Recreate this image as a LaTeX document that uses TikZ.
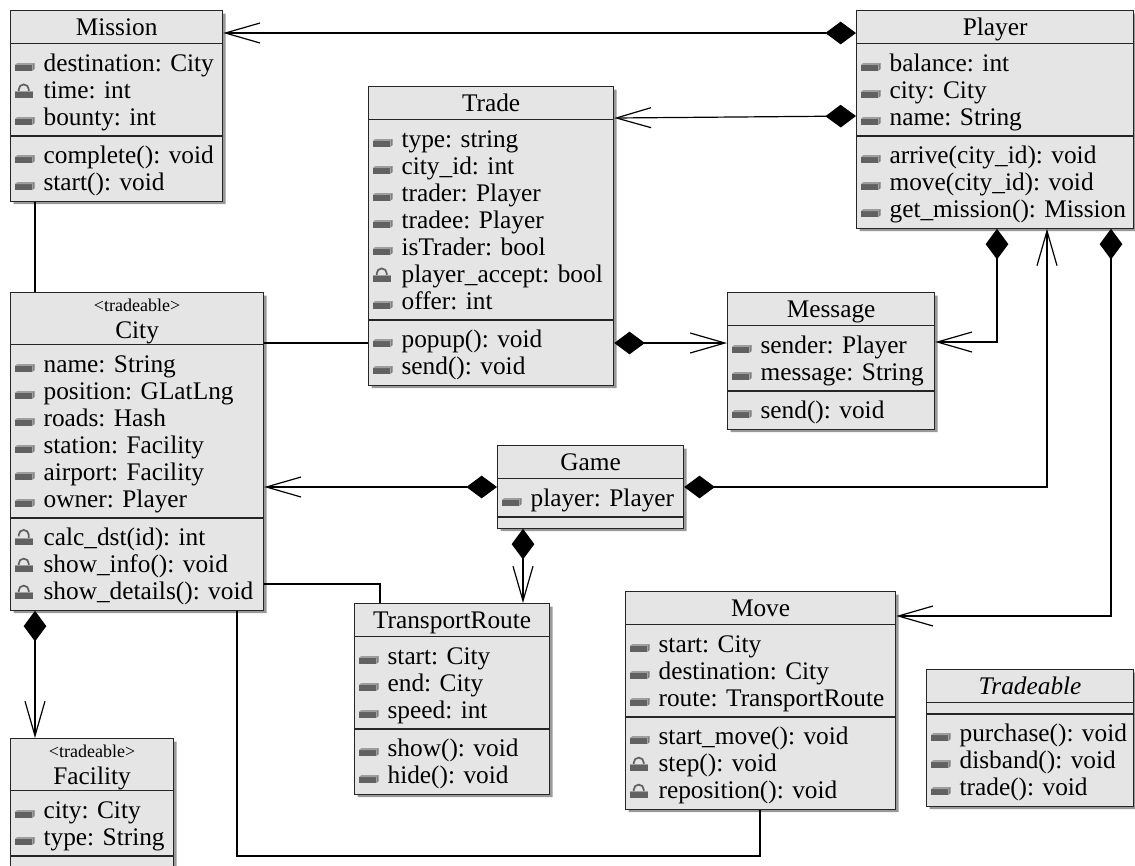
\documentclass[tikz,border=0pt]{standalone}
\usepackage{fontspec}
\setmainfont{Liberation Serif}
\usetikzlibrary{shapes.multipart,shadows,arrows.meta}
\setlength{\parindent}{0pt}
\frenchspacing

\tikzset{every picture/.style={line width=0.75pt}}
\tikzset{
  umlclass/.style={rectangle split, rectangle split parts=3, draw=black!85, fill=black!10,
    line width=0.9pt, inner xsep=2.25pt, inner ysep=3.75pt, anchor=north west,
    rectangle split empty part height=0.75pt,
    font=\fontsize{19pt}{20.25pt}\selectfont\frenchspacing,
    drop shadow={shadow xshift=2.25pt, shadow yshift=-2.25pt, fill=black!40, opacity=1}},
  assoc/.style={draw=black, line width=0.9pt},
  comp/.style={assoc, {Diamond[length=23pt,width=17pt]}-{Straight Barb[length=26pt,width=15pt]}},
  icon/.style={baseline=0pt, scale=1.05},
}

% member icons
\newcommand{\pubicon}{\tikz[icon]{\fill[black!62] (0pt,0.3pt) rectangle (12.5pt,4.6pt); \fill[black!38] (0pt,4.6pt) -- (1.6pt,6pt) -- (14pt,6pt) -- (12.5pt,4.6pt) -- cycle; \fill[black!50] (12.5pt,0.3pt) -- (14pt,1.7pt) -- (14pt,6pt) -- (12.5pt,4.6pt) -- cycle;}}
\newcommand{\lockicon}{\tikz[icon]{\draw[black!62,line width=1.3pt] (3pt,4.5pt) -- (3pt,6.4pt) arc[start angle=180,end angle=0,radius=3.6pt] -- (10.2pt,4.5pt); \fill[black!62] (0.3pt,0.3pt) rectangle (12.9pt,4.6pt); \fill[black!38] (0.3pt,4.6pt) rectangle (12.9pt,5.6pt);}}
\newcommand{\openlockicon}{\tikz[icon]{\draw[black!62,line width=1.3pt] (3pt,6.6pt) -- (3pt,7.6pt) arc[start angle=180,end angle=0,radius=3.6pt] -- (10.2pt,4.5pt); \fill[black!62] (0.3pt,0.3pt) rectangle (12.9pt,4.6pt); \fill[black!38] (0.3pt,4.6pt) rectangle (12.9pt,5.6pt);}}

\newcommand{\rowstrut}{\rule[-3.75pt]{0pt}{20.25pt}}
\newcommand{\pubrow}[1]{\mbox{\rowstrut\hspace{1pt}\makebox[14pt][l]{\pubicon}\hspace{7.5pt}\smash{#1}}}
\newcommand{\lockrow}[1]{\mbox{\rowstrut\hspace{1pt}\makebox[14pt][l]{\lockicon}\hspace{7.5pt}\smash{#1}}}
\newcommand{\openrow}[1]{\mbox{\rowstrut\hspace{1pt}\makebox[14pt][l]{\openlockicon}\hspace{7.5pt}\smash{#1}}}
\newcommand{\titlerow}[1]{\makebox[\hsize][c]{\rule[-2.25pt]{0pt}{16.5pt}\smash{#1}}}
\newcommand{\stereorow}[2]{\fontsize{19pt}{22.5pt}\selectfont\makebox[\hsize][c]{\rule{0pt}{9.75pt}\smash{\fontsize{13.5pt}{15pt}\selectfont#1}}\\\makebox[\hsize][c]{\rule[-0.75pt]{0pt}{0.75pt}\smash{#2}}}

\begin{document}
\begin{tikzpicture}[x=0.75pt,y=0.75pt,yscale=-1,xscale=1]
\useasboundingbox (0,0) rectangle (1135,865);

% classes
\node[umlclass, text width=154.5pt] (mission) at (10,10) {\titlerow{Mission}
  \nodepart{two}\pubrow{destination: City}\\\lockrow{time: int}\\\pubrow{bounty: int}
  \nodepart{three}\pubrow{complete(): void}\\\pubrow{start(): void}};

\node[umlclass, text width=203.25pt] (player) at (856,10) {\titlerow{Player}
  \nodepart{two}\pubrow{balance: int}\\\pubrow{city: City}\\\pubrow{name: String}
  \nodepart{three}\pubrow{arrive(city\_id): void}\\\pubrow{move(city\_id): void}\\\pubrow{get\_mission(): Mission}};

\node[umlclass, text width=179.25pt] (trade) at (368,86) {\titlerow{Trade}
  \nodepart{two}\pubrow{type: string}\\\pubrow{city\_id: int}\\\pubrow{trader: Player}\\\pubrow{tradee: Player}\\\pubrow{isTrader: bool}\\\lockrow{player\_accept: bool}\\\pubrow{offer: int}
  \nodepart{three}\pubrow{popup(): void}\\\pubrow{send(): void}};

\node[umlclass, text width=185.25pt] (city) at (10,292) {\stereorow{<tradeable>}{City}
  \nodepart{two}\pubrow{name: String}\\\pubrow{position: GLatLng}\\\pubrow{roads: Hash}\\\pubrow{station: Facility}\\\pubrow{airport: Facility}\\\pubrow{owner: Player}
  \nodepart{three}\openrow{calc\_dst(id): int}\\\lockrow{show\_info(): void}\\\lockrow{show\_details(): void}};

\node[umlclass, text width=150.75pt] (message) at (727,292) {\titlerow{Message}
  \nodepart{two}\pubrow{sender: Player}\\\pubrow{message: String}
  \nodepart{three}\pubrow{send(): void}};

\node[umlclass, text width=135pt] (game) at (497,445) {\titlerow{Game}
  \nodepart{two}\pubrow{player: Player}
  \nodepart{three}};

\node[umlclass, text width=141.75pt] (route) at (354,603) {\titlerow{TransportRoute}
  \nodepart{two}\pubrow{start: City}\\\pubrow{end: City}\\\pubrow{speed: int}
  \nodepart{three}\pubrow{show(): void}\\\pubrow{hide(): void}};

\node[umlclass, text width=198pt] (move) at (625,591) {\titlerow{Move}
  \nodepart{two}\pubrow{start: City}\\\pubrow{destination: City}\\\pubrow{route: TransportRoute}
  \nodepart{three}\pubrow{start\_move(): void}\\\lockrow{step(): void}\\\lockrow{reposition(): void}};

\node[umlclass, text width=150.75pt] (tradeable) at (926,669) {\titlerow{\textit{Tradeable}}
  \nodepart{two}
  \nodepart{three}\pubrow{purchase(): void}\\\pubrow{disband(): void}\\\pubrow{trade(): void}};

\node[umlclass, text width=117.75pt] (facility) at (10,738) {\stereorow{<tradeable>}{Facility}
  \nodepart{two}\pubrow{city: City}\\\pubrow{type: String}
  \nodepart{three}};

% compositions
\draw[comp] (player.west |- 0,33) -- (mission.east |- 0,33);
\draw[comp] (player.west |- 0,116) -- (trade.east |- 0,118);
\draw[comp] (trade.east |- 0,343) -- (message.west |- 0,343);
\draw[comp] (player.south -| 997,0) |- (message.east |- 0,342);
\draw[comp] (game.east |- 0,487) -| (player.south -| 1047,0);
\draw[comp] (player.south -| 1111,0) |- (move.east |- 0,616);
\draw[comp] (game.west |- 0,487) -- (city.east |- 0,487);
\draw[comp] (game.south -| 523,0) -- (route.north -| 523,0);
\draw[comp] (city.south -| 35,0) -- (facility.north -| 35,0);

% plain associations
\draw[assoc] (mission.south -| 35,0) -- (city.north -| 35,0);
\draw[assoc] (city.east |- 0,343) -- (trade.west |- 0,343);
\draw[assoc] (city.east |- 0,584) -| (route.north -| 380,0);
\draw[assoc] (city.south -| 237,0) -- (237,856) -| (move.south -| 760,0);

\end{tikzpicture}
\end{document}
